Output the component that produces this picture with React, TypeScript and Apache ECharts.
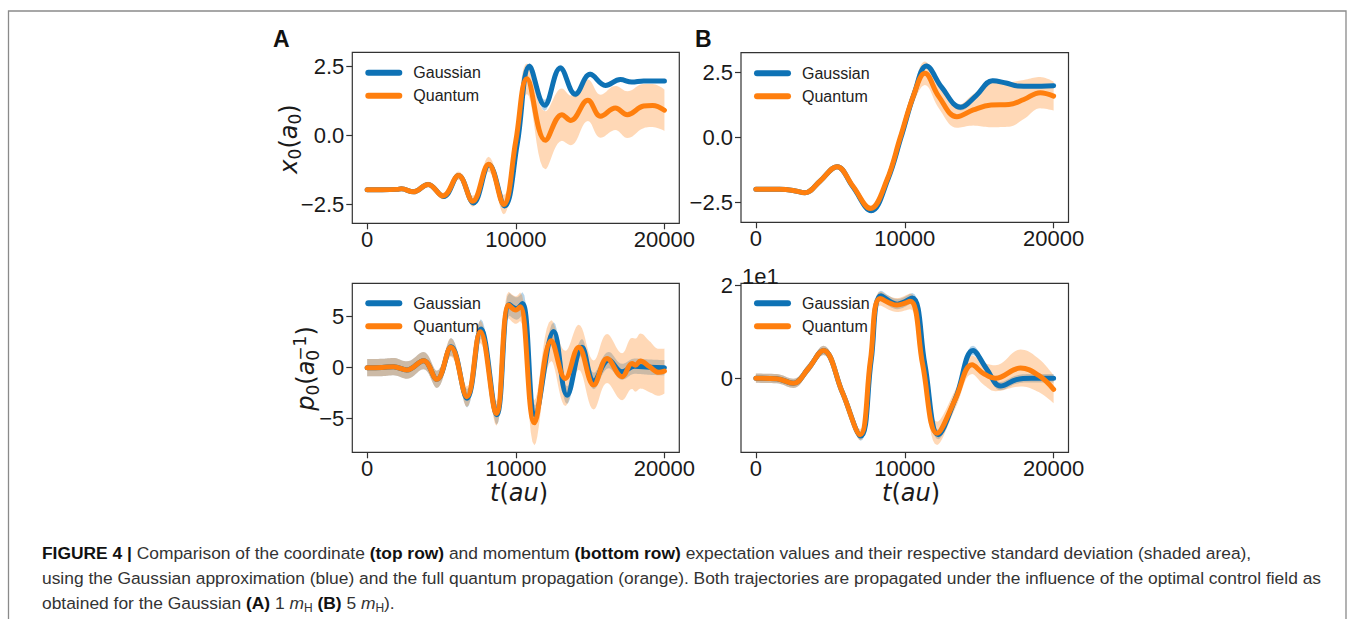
import React, { useEffect, useRef } from 'react';
import * as echarts from 'echarts';

// ---------------- data ----------------
// Panel A, top row: coordinate expectation x0 (a0)
const aTopGaussT = [0, 1000, 2000, 2300, 3100, 4100, 5150, 6150, 7150, 8200, 9250, 10100, 10930, 11940, 13000, 14000, 15000, 16030, 17030, 17800, 18600, 20000];
const aTopGaussX = [-1.97, -1.97, -1.96, -1.94, -2.05, -1.78, -2.22, -1.46, -2.45, -1.07, -2.56, -0.3, 2.5, 1.09, 2.44, 1.49, 2.21, 1.81, 2.02, 1.93, 1.97, 1.97];
const aTopGaussSd = [0.05, 0.05, 0.05, 0.05, 0.05, 0.05, 0.06, 0.06, 0.07, 0.08, 0.09, 0.1, 0.12, 0.2, 0.12, 0.12, 0.1, 0.08, 0.07, 0.06, 0.06, 0.06];
const aTopQuantT = [0, 1000, 2000, 2300, 3100, 4100, 5100, 6150, 7100, 8170, 9180, 10000, 10750, 11990, 13100, 13700, 14850, 15700, 16700, 17500, 18600, 19200, 20000];
const aTopQuantX = [-1.97, -1.97, -1.96, -1.94, -2.05, -1.78, -2.2, -1.46, -2.39, -1.05, -2.51, -0.2, 2.05, -0.18, 0.75, 0.54, 1.27, 0.69, 0.99, 0.75, 1.06, 1.08, 0.91];
const aTopQuantSd = [0.06, 0.06, 0.07, 0.07, 0.08, 0.1, 0.12, 0.15, 0.2, 0.27, 0.35, 0.4, 0.55, 1.05, 0.95, 0.9, 0.75, 0.78, 0.8, 0.85, 0.8, 0.78, 0.75];

// Panel B, top row
const bTopGaussT = [0, 1600, 2500, 3300, 4300, 5450, 6500, 7750, 8850, 9750, 10650, 11450, 12500, 13750, 14800, 15900, 16800, 17600, 18500, 20000];
const bTopGaussX = [-1.99, -1.99, -2.03, -2.12, -1.68, -1.12, -1.88, -2.81, -1.63, 0.0, 1.7, 2.73, 1.9, 1.15, 1.6, 2.17, 2.08, 1.97, 1.96, 1.98];
const bTopGaussSd = [0.05, 0.05, 0.05, 0.05, 0.06, 0.07, 0.07, 0.08, 0.08, 0.08, 0.09, 0.1, 0.1, 0.12, 0.1, 0.08, 0.07, 0.07, 0.07, 0.07];
const bTopQuantT = [0, 1600, 2500, 3300, 4300, 5450, 6500, 7700, 8800, 9700, 10600, 11350, 12300, 13500, 14600, 15800, 17000, 18000, 19100, 20000];
const bTopQuantX = [-1.99, -1.99, -2.03, -2.12, -1.68, -1.12, -1.85, -2.72, -1.63, 0.0, 1.62, 2.45, 1.55, 0.79, 1.05, 1.24, 1.26, 1.45, 1.71, 1.58];
const bTopQuantSd = [0.05, 0.05, 0.05, 0.06, 0.07, 0.1, 0.1, 0.12, 0.13, 0.15, 0.3, 0.45, 0.45, 0.42, 0.6, 0.85, 0.85, 0.75, 0.6, 0.55];

// Panel A, bottom row: momentum expectation p0 (1/a0)
const aBotGaussT = [0, 1000, 1770, 2670, 3790, 4690, 5650, 6720, 7650, 8720, 9560, 10050, 10450, 11300, 12550, 13450, 14450, 15250, 16250, 17150, 18000, 19000, 20000];
const aBotGaussP = [0.0, 0.02, 0.1, -0.23, 0.69, -1.14, 2.05, -3.0, 3.8, -4.6, 6.2, 5.8, 6.3, -4.6, 3.55, -2.7, 2.0, -1.3, 0.75, -0.4, 0.15, 0.05, 0.0];
const aBotGaussSd = [0.85, 0.85, 0.85, 0.85, 0.85, 0.85, 0.85, 0.9, 0.95, 1.0, 1.1, 1.1, 1.1, 0.9, 0.9, 0.85, 0.8, 0.8, 0.8, 0.78, 0.75, 0.75, 0.75];
const aBotQuantT = [0, 1000, 1770, 2670, 3790, 4690, 5630, 6710, 7610, 8690, 9520, 10000, 10300, 11250, 12390, 13330, 14230, 15240, 16140, 17150, 17820, 18050, 18380, 19000, 19620, 20000];
const aBotQuantP = [0.0, 0.02, 0.1, -0.23, 0.69, -1.14, 2.0, -2.84, 3.53, -4.48, 6.14, 5.65, 5.98, -5.4, 2.65, -1.05, 2.0, -1.7, 0.9, -0.88, 0.42, 0.25, 0.65, 0.1, -0.45, -0.33];
const aBotQuantSd = [0.85, 0.85, 0.85, 0.85, 0.85, 0.85, 0.9, 1.0, 1.1, 1.2, 1.3, 1.35, 1.4, 2.2, 2.0, 2.7, 2.2, 2.4, 2.4, 2.3, 2.5, 2.6, 2.7, 2.5, 2.3, 2.2];

// Panel B, bottom row (values in 1/a0; axis labelled in units of 1e1)
const bBotGaussT = [0, 1400, 2510, 3500, 4530, 5800, 7050, 7750, 8400, 9500, 10500, 11350, 12250, 13450, 14590, 15500, 16430, 17500, 18500, 20000];
const bBotGaussP = [0.0, -0.1, -1.1, 2.0, 6.0, -3.0, -12.5, 4.0, 17.8, 16.0, 17.3, 3.0, -12.2, -4.0, 6.0, 2.0, -1.7, -0.3, 0.0, 0.0];
const bBotGaussSd = [1.0, 1.0, 1.0, 1.0, 1.0, 1.0, 1.0, 1.0, 1.1, 1.1, 1.1, 1.0, 1.0, 0.9, 1.0, 0.9, 0.9, 0.9, 0.9, 0.9];
const bBotQuantT = [0, 1400, 2510, 3500, 4530, 5800, 7000, 7700, 8350, 9470, 10370, 11200, 12170, 13400, 14520, 15300, 16090, 17780, 19000, 20000];
const bBotQuantP = [0.0, -0.1, -1.1, 2.0, 6.0, -3.0, -12.2, 4.0, 17.2, 15.8, 16.6, 3.0, -11.9, -4.5, 2.9, 1.0, 0.0, 2.2, 0.6, -2.4];
const bBotQuantSd = [1.0, 1.0, 1.0, 1.0, 1.0, 1.0, 1.2, 1.3, 1.5, 1.5, 1.7, 1.9, 2.5, 2.0, 2.0, 2.4, 2.8, 4.0, 3.6, 3.0];

const xTicks = [0, 10000, 20000];
const yTicksTop = [-2.5, 0, 2.5];
const yTicksABot = [-5, 0, 5];
const yTicksBBot = [0, 20];
const seriesNames = ['Gaussian', 'Quantum'];

// ---------------- styles ----------------
const BLUE = '#0e72b5';
const ORANGE = '#ff7f0e';
const BLUE_BAND = 'rgba(14,114,181,0.3)';
const ORANGE_BAND = 'rgba(255,127,14,0.3)';
const AX = '#333333';
const TXT = '#1a1a1a';
const TICK_FONT = '"Liberation Sans", Arial, Helvetica, sans-serif';
const MATH_FONT = '"DejaVu Sans", sans-serif';
const CAP_FONT = '"Liberation Sans", Arial, Helvetica, sans-serif';
const SMOOTH = 0.4;
const CAPSULE = 'path://M3,0 L34,0 A3,3 0 0 1 34,6 L3,6 A3,3 0 0 1 3,0 Z';

// sample a smoothed poly-line in pixel space (same construction as ECharts' smoothed line)
function smoothSample(pts: number[][], smooth: number, steps = 10): number[][] {
  const n = pts.length;
  if (n < 2) return pts.slice();
  const out: number[][] = [pts[0]];
  const clamp = (v: number, a: number, b: number) => Math.max(Math.min(a, b), Math.min(Math.max(a, b), v));
  let cp0x = pts[0][0];
  let cp0y = pts[0][1];
  for (let k = 1; k < n; k++) {
    const [x, y] = pts[k];
    const [px, py] = pts[k - 1];
    let cp1x = x, cp1y = y, ncp0x = x, ncp0y = y;
    if (k < n - 1) {
      const [nx, ny] = pts[k + 1];
      let vx = nx - px;
      let vy = ny - py;
      const l0 = Math.hypot(x - px, y - py) || 1e-6;
      const l1 = Math.hypot(nx - x, ny - y) || 1e-6;
      const r = l1 / (l0 + l1);
      ncp0x = clamp(x + vx * smooth * r, nx, x);
      ncp0y = clamp(y + vy * smooth * r, ny, y);
      vx = ncp0x - x;
      vy = ncp0y - y;
      cp1x = clamp(x - (vx * l0) / l1, px, x);
      cp1y = clamp(y - (vy * l0) / l1, py, y);
      vx = x - cp1x;
      vy = y - cp1y;
      ncp0x = x + (vx * l1) / l0;
      ncp0y = y + (vy * l1) / l0;
    }
    for (let s = 1; s <= steps; s++) {
      const t = s / steps;
      const u = 1 - t;
      const bx = u * u * u * px + 3 * u * u * t * cp0x + 3 * u * t * t * cp1x + t * t * t * x;
      const by = u * u * u * py + 3 * u * u * t * cp0y + 3 * u * t * t * cp1y + t * t * t * y;
      out.push([bx, by]);
    }
    cp0x = ncp0x;
    cp0y = ncp0y;
  }
  return out;
}

let mctx: CanvasRenderingContext2D | null = null;
function tw(s: string, size: number) {
  if (!mctx) mctx = document.createElement('canvas').getContext('2d');
  if (!mctx) return s.length * size * 0.6;
  mctx.font = `${size}px ${MATH_FONT}`;
  return mctx.measureText(s).width;
}

// math-style label as one rich text element (sub/superscripts via token alignment)
const MS = 24;
const SS = 17;
function mathRich(lh: number) {
  const w0 = tw('0', SS);
  return {
    i: { fontStyle: 'italic', fontSize: MS, fontFamily: MATH_FONT, fill: TXT, lineHeight: lh },
    s: { fontSize: SS, fontFamily: MATH_FONT, fill: TXT, lineHeight: 15, verticalAlign: 'bottom' },
    p: { fontSize: SS, fontFamily: MATH_FONT, fill: TXT, lineHeight: 12, verticalAlign: 'top', padding: [0, 0, 0, -w0] },
  };
}
function mathText(text: string, x: number, y: number, rotate: boolean, lh: number) {
  return {
    type: 'text', x, y, rotation: rotate ? Math.PI / 2 : 0, silent: true,
    style: {
      text, fontSize: MS, fontFamily: MATH_FONT, fill: TXT, lineHeight: lh,
      align: 'center', verticalAlign: 'middle', rich: mathRich(lh),
    },
  };
}

const minus = (s: string) => s.replace('-', '\u2212');

type Panel = {
  left: number; top: number; width: number; height: number;
  ymin: number; ymax: number; yticks: number[]; fmt: (v: number) => string;
  legendTop: number;
  g: [number[], number[], number[]];
  q: [number[], number[], number[]];
};

const panels: Panel[] = [
  { left: 352.3, top: 52.3, width: 327, height: 171, ymin: -3.19, ymax: 3.01, yticks: yTicksTop, fmt: (v) => minus(v.toFixed(1)), legendTop: 64.7,
    g: [aTopGaussT, aTopGaussX, aTopGaussSd], q: [aTopQuantT, aTopQuantX, aTopQuantSd] },
  { left: 741, top: 52.7, width: 327.5, height: 169.6, ymin: -3.25, ymax: 3.24, yticks: yTicksTop, fmt: (v) => minus(v.toFixed(1)), legendTop: 65.3,
    g: [bTopGaussT, bTopGaussX, bTopGaussSd], q: [bTopQuantT, bTopQuantX, bTopQuantSd] },
  { left: 352.3, top: 283.3, width: 327, height: 169, ymin: -8.29, ymax: 8.27, yticks: yTicksABot, fmt: (v) => minus(String(v)), legendTop: 295.3,
    g: [aBotGaussT, aBotGaussP, aBotGaussSd], q: [aBotQuantT, aBotQuantP, aBotQuantSd] },
  { left: 741, top: 283.3, width: 327.5, height: 169, ymin: -16.0, ymax: 20.5, yticks: yTicksBBot, fmt: (v) => minus(String(v / 10)), legendTop: 295.3,
    g: [bBotGaussT, bBotGaussP, bBotGaussSd], q: [bBotQuantT, bBotQuantP, bBotQuantSd] },
];

function buildOption() {
  const grid: any[] = [];
  const xAxis: any[] = [];
  const yAxis: any[] = [];
  const legend: any[] = [];
  const series: any[] = [];

  panels.forEach((p, i) => {
    grid.push({ left: p.left, top: p.top, width: p.width, height: p.height, show: true, borderColor: AX, borderWidth: 1.2, backgroundColor: 'transparent', containLabel: false });
    xAxis.push({
      type: 'value', gridIndex: i, min: -1000, max: 21000,
      axisLine: { show: false, onZero: false }, splitLine: { show: false },
      axisTick: { show: true, length: 6, lineStyle: { color: AX, width: 1.2 }, customValues: xTicks },
      axisLabel: { customValues: xTicks, fontFamily: TICK_FONT, fontSize: 22, lineHeight: 20, color: TXT, margin: 6, formatter: (v: number) => String(v) },
    });
    yAxis.push({
      type: 'value', gridIndex: i, min: p.ymin, max: p.ymax,
      axisLine: { show: false, onZero: false }, splitLine: { show: false },
      axisTick: { show: true, length: 6, lineStyle: { color: AX, width: 1.2 }, customValues: p.yticks },
      axisLabel: { customValues: p.yticks, fontFamily: TICK_FONT, fontSize: 22, lineHeight: 20, color: TXT, margin: 8, formatter: p.fmt },
    });
    legend.push({
      left: p.left + 13, top: p.legendTop, orient: 'vertical', data: seriesNames,
      icon: CAPSULE, itemWidth: 37, itemHeight: 6, itemGap: 7, padding: 0, selectedMode: false,
      itemStyle: { borderWidth: 0 },
      textStyle: { fontFamily: TICK_FONT, fontSize: 16, color: '#222', padding: [0, 0, 0, 6] },
    });

    const band = (id: string, d: [number[], number[], number[]], fill: string) => {
      const [t, m, sd] = d;
      series.push({
        type: 'custom', name: id, xAxisIndex: i, yAxisIndex: i, data: [[t[0], m[0]]],
        silent: true, z: 1, clip: true,
        renderItem: (_params: any, api: any) => {
          const upper = t.map((x, k) => api.coord([x, m[k] + sd[k]]));
          const lower = t.map((x, k) => api.coord([x, m[k] - sd[k]]));
          const pts = smoothSample(upper, SMOOTH).concat(smoothSample(lower, SMOOTH).reverse());
          return { type: 'polygon', shape: { points: pts }, style: { fill, stroke: 'none' } };
        },
      });
    };
    band('Gaussian sd ' + i, p.g, BLUE_BAND);
    band('Quantum sd ' + i, p.q, ORANGE_BAND);

    const line = (name: string, d: [number[], number[], number[]], color: string, z: number) => {
      const [t, m] = d;
      series.push({
        type: 'line', name, xAxisIndex: i, yAxisIndex: i,
        data: t.map((x, k) => [x, m[k]]),
        smooth: SMOOTH, symbol: 'none', z, color,
        itemStyle: { color },
        lineStyle: { width: 5, color, cap: 'round', join: 'round' },
        emphasis: { disabled: true },
      });
    };
    line('Gaussian', p.g, BLUE, 3);
    line('Quantum', p.q, ORANGE, 4);
  });

  const CS = 17.4;
  const capRich = {
    b: { fontWeight: 'bold', fontSize: CS, fontFamily: CAP_FONT, fill: '#111', color: '#111', lineHeight: 22 },
    i: { fontStyle: 'italic', fontSize: CS, fontFamily: CAP_FONT, fill: '#333', color: '#333', lineHeight: 22 },
    s: { fontSize: 12, fontFamily: CAP_FONT, fill: '#333', color: '#333', lineHeight: 11, verticalAlign: 'bottom' },
  };
  const capText = (text: string, y: number) => ({
    type: 'text', left: 42, top: y - 11, silent: true,
    style: { text, fontSize: CS, fontFamily: CAP_FONT, fill: '#333', lineHeight: 22, rich: capRich },
  });

  const graphic: any[] = [
    { type: 'rect', silent: true, shape: { x: 8.5, y: 11, width: 1337.5, height: 700 }, style: { fill: 'none', stroke: '#8a8a8a', lineWidth: 1.3 }, z: -1 },
    { type: 'text', x: 273, y: 38.5, silent: true, style: { text: 'A', fontSize: 23, fontWeight: 'bold', fontFamily: TICK_FONT, fill: '#111', verticalAlign: 'middle' } },
    { type: 'text', x: 695, y: 38.5, silent: true, style: { text: 'B', fontSize: 23, fontWeight: 'bold', fontFamily: TICK_FONT, fill: '#111', verticalAlign: 'middle' } },
    { type: 'text', x: 742, y: 276.5, silent: true, style: { text: '1e1', fontSize: 22, lineHeight: 18, fontFamily: TICK_FONT, fill: TXT, verticalAlign: 'middle' } },
    mathText('{i|x}{s|0}({i|a}{s|0})', 288.5, 139, true, 30),
    mathText('{i|p}{s|0}({i|a}{s|0}{p|\u22121})', 306, 368.5, true, 30),
    mathText('{i|t}({i|au})', 519, 493, false, 24),
    mathText('{i|t}({i|au})', 911, 493, false, 24),
    capText('{b|FIGURE 4 |} Comparison of the coordinate {b|(top row)} and momentum {b|(bottom row)} expectation values and their respective standard deviation (shaded area),', 553),
    capText('using the Gaussian approximation (blue) and the full quantum propagation (orange). Both trajectories are propagated under the influence of the optimal control field as', 578),
    capText('obtained for the Gaussian {b|(A)} 1 {i|m}{s|H} {b|(B)} 5 {i|m}{s|H}).', 603),
  ];

  return {
    animation: false,
    backgroundColor: '#ffffff',
    textStyle: { fontFamily: TICK_FONT },
    grid, xAxis, yAxis, legend, series, graphic,
  };
}

export default function App() {
  const ref = useRef<HTMLDivElement>(null);
  useEffect(() => {
    if (!ref.current) return;
    const chart = echarts.init(ref.current, undefined, { renderer: 'svg' });
    chart.setOption(buildOption() as any);
    return () => chart.dispose();
  }, []);
  return <div ref={ref} style={{ position: 'absolute', left: 0, top: 0, width: 1356, height: 619, background: '#fff' }} />;
}
